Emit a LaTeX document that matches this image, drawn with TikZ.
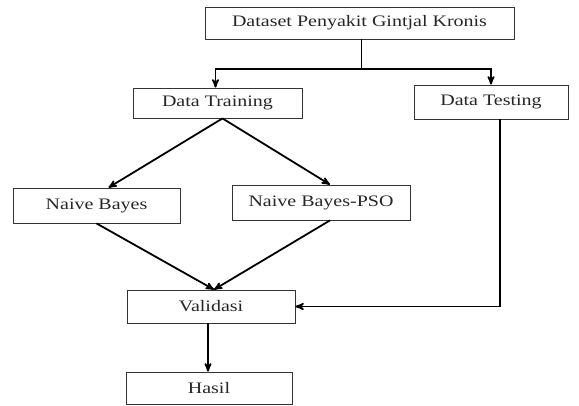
\documentclass[tikz,border=0pt]{standalone}
\usepackage{fontspec}
\setmainfont[FakeStretch=1.25]{Liberation Serif}
\usetikzlibrary{%
  arrows,%
  positioning,%
  calc
}

\begin{document}
\begin{tikzpicture}
[x=1pt, y=-1pt, draw=black, line width=1.5pt, >=stealth',
box/.style={rectangle, draw=black!80, line width=0.8pt, fill=white, inner sep=0pt, text=black!85, font=\fontsize{16}{18}\selectfont},
flow/.style={->, line width=1.8pt}]

\useasboundingbox (0,0) rectangle (579,405);

\node[box, minimum width=309pt, minimum height=32pt] (dataset) at (359.5,23) {Dataset Penyakit Gintjal Kronis};
\node[box, minimum width=169pt, minimum height=30pt] (training) at (217.5,103) {Data Training};
\node[box, minimum width=154pt, minimum height=34pt] (testing) at (491,102) {Data Testing};
\node[box, minimum width=167pt, minimum height=35pt] (nb) at (96.5,205.5) {Naive Bayes};
\node[box, minimum width=178pt, minimum height=35pt] (nbpso) at (321,202.5) {Naive Bayes-PSO};
\node[box, minimum width=168pt, minimum height=33pt] (validasi) at (211,306.5) {Validasi};
\node[box, minimum width=166pt, minimum height=32pt] (hasil) at (209,388) {Hasil};

\coordinate (split) at ([xshift=2]dataset.south |- 0,69);

\draw ([xshift=2]dataset.south) -- (split);
\draw[flow] (split) -| ([xshift=-2]training.north);
\draw[flow] (split) -| (testing.north);

\draw[flow] ([xshift=5]training.south) -- ([xshift=12]nb.north);
\draw[flow] ([xshift=5]training.south) -- ([xshift=9]nbpso.north);

\draw[flow] (nb.south) -- ([xshift=3]validasi.north);
\draw[flow] ([xshift=9]nbpso.south) -- ([xshift=3]validasi.north);

\draw[flow] ([xshift=9]testing.south) |- (validasi.east);
\draw[flow] ([xshift=-3]validasi.south) -- ([xshift=-1]hasil.north);
\end{tikzpicture}
\end{document}
